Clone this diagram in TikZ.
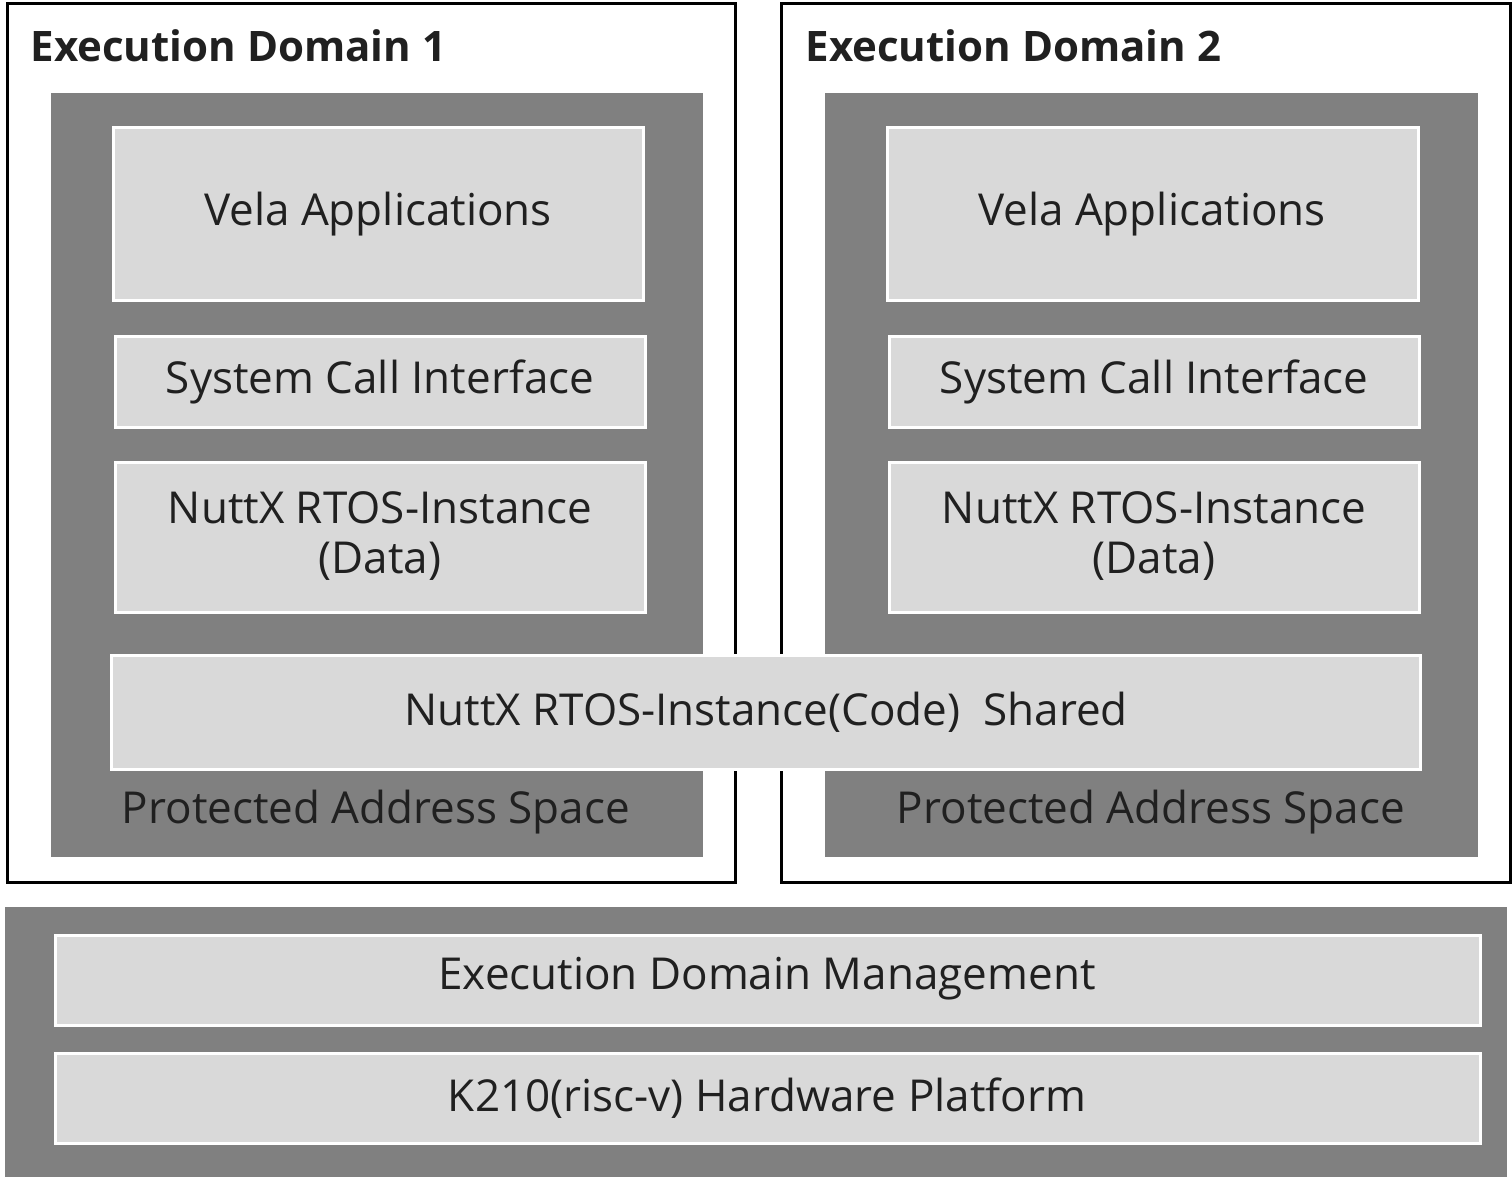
\documentclass[tikz,border=0pt]{standalone}
\usepackage{fontspec}
\setmainfont{Open Sans}
\definecolor{darkpanel}{HTML}{808080}
\definecolor{lightbox}{HTML}{D9D9D9}
\definecolor{txt}{HTML}{202020}
\begin{document}
\begin{tikzpicture}[x=1pt,y=-1pt,
  domainbox/.style={draw=black,line width=3pt,fill=white},
  panel/.style={fill=darkpanel},
  layerbox/.style={draw=white,line width=3pt,fill=lightbox},
  lbl/.style={text=txt,font=\fontsize{44}{50}\selectfont,align=center},
  title/.style={text=txt,font=\fontsize{42}{48}\selectfont\bfseries,anchor=base west},
  paslbl/.style={text=txt,font=\fontsize{44}{50}\selectfont}]
\useasboundingbox (0,0) rectangle (1512,1181);
% domains
\draw[domainbox] (7,3) rectangle (735,882);
\draw[domainbox] (781,3) rectangle (1510,882);
\node[title] (t1) at (27,61) {Execution Domain 1};
\node[title] (t2) at (802,61) {Execution Domain 2};
% panels
\fill[panel] (51,93) rectangle (703,857);
\fill[panel] (825,93) rectangle (1478,857);
% domain 1 layers
\draw[layerbox] (113,127) rectangle (643,300);
\node[lbl] (va1) at (378,214) {Vela Applications};
\draw[layerbox] (115,336) rectangle (645,427);
\node[lbl] (sc1) at (380,382) {System Call Interface};
\draw[layerbox] (115,462) rectangle (645,612);
\node[lbl] (nd1) at (380,536) {NuttX RTOS-Instance\\(Data)};
% domain 2 layers
\draw[layerbox] (887,127) rectangle (1418,300);
\node[lbl] (va2) at (1152,214) {Vela Applications};
\draw[layerbox] (889,336) rectangle (1419,427);
\node[lbl] (sc2) at (1154,382) {System Call Interface};
\draw[layerbox] (889,462) rectangle (1419,612);
\node[lbl] (nd2) at (1154,536) {NuttX RTOS-Instance\\(Data)};
% shared code
\draw[layerbox] (111,655) rectangle (1420,769);
\node[lbl] (code) at (766,712) {NuttX RTOS-Instance(Code)\ \ Shared};
% protected labels
\node[paslbl] (pas1) at (376,812) {Protected Address Space};
\node[paslbl] (pas2) at (1151,812) {Protected Address Space};
% bottom
\fill[panel] (5,907) rectangle (1507,1177);
\draw[layerbox] (55,935) rectangle (1480,1025);
\node[lbl] (edm) at (767,979) {Execution Domain Management};
\draw[layerbox] (55,1053) rectangle (1480,1143);
\node[lbl] (hw) at (767,1098) {K210(risc-v) Hardware Platform};
\end{tikzpicture}
\end{document}
